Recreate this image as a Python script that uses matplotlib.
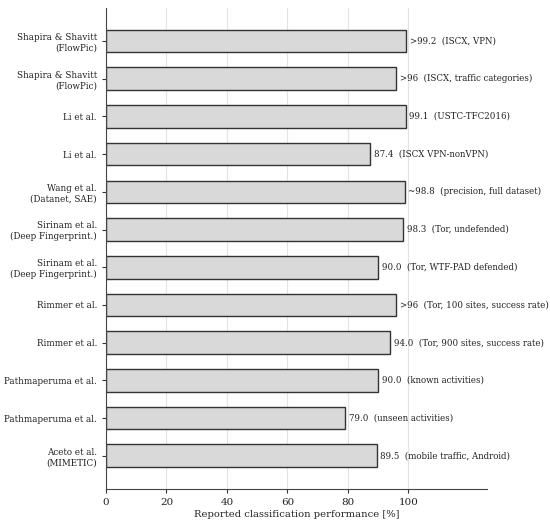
import matplotlib
matplotlib.use('Agg')
import matplotlib.pyplot as plt
import numpy as np

plt.rcParams['font.family'] = 'DejaVu Serif'

# studies, top to bottom
labels = [
    'Shapira & Shavitt\n(FlowPic)',
    'Shapira & Shavitt\n(FlowPic)',
    'Li et al.',
    'Li et al.',
    'Wang et al.\n(Datanet, SAE)',
    'Sirinam et al.\n(Deep Fingerprint.)',
    'Sirinam et al.\n(Deep Fingerprint.)',
    'Rimmer et al.',
    'Rimmer et al.',
    'Pathmaperuma et al.',
    'Pathmaperuma et al.',
    'Aceto et al.\n(MIMETIC)',
]
values = [99.2, 96.0, 99.1, 87.4, 98.8, 98.3, 90.0, 96.0, 94.0, 90.0, 79.0, 89.5]
value_text = ['>99.2', '>96', '99.1', '87.4', '~98.8', '98.3', '90.0', '>96', '94.0', '90.0', '79.0', '89.5']
notes = [
    '(ISCX, VPN)',
    '(ISCX, traffic categories)',
    '(USTC-TFC2016)',
    '(ISCX VPN-nonVPN)',
    '(precision, full dataset)',
    '(Tor, undefended)',
    '(Tor, WTF-PAD defended)',
    '(Tor, 100 sites, success rate)',
    '(Tor, 900 sites, success rate)',
    '(known activities)',
    '(unseen activities)',
    '(mobile traffic, Android)',
]

fig = plt.figure(figsize=(5.5, 5.24), dpi=100)
ax = fig.add_axes([0.1927, 0.067, 0.693, 0.918])

y = np.arange(len(values))
ax.barh(y, values, height=0.6, color='#d9d9d9', edgecolor='#333333', linewidth=1.0, zorder=2)
ax.invert_yaxis()

for yi, v, vt, n in zip(y, values, value_text, notes):
    ax.text(v + 1.2, yi, vt + '  ' + n, va='center', ha='left', fontsize=6.2, color='#222222')

ax.set_yticks(y)
ax.set_yticklabels(labels, fontsize=6.3, color='#222222')
ax.set_xlim(0, 126)
ax.set_xticks([0, 20, 40, 60, 80, 100])
ax.tick_params(axis='x', labelsize=7.5, length=3, color='#333333', labelcolor='#222222')
ax.tick_params(axis='y', length=3, color='#333333')
ax.set_xlabel('Reported classification performance [%]', fontsize=7.2, labelpad=2, color='#222222')

ax.grid(axis='x', color='#e3e3e3', linewidth=0.8, zorder=0)
ax.set_axisbelow(True)
for s in ['top', 'right']:
    ax.spines[s].set_visible(False)
for s in ['left', 'bottom']:
    ax.spines[s].set_color('#444444')

fig.savefig('out.png', dpi=100)
